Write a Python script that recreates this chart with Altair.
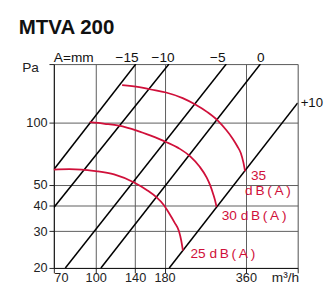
import altair as alt
import pandas as pd

FONT = "Liberation Sans"
RED = "#d0103a"

# axis ticks / domain
x_ticks = [70, 100, 140, 180, 360, 560]
y_ticks = [20, 30, 40, 50, 100, 190]
x_domain = [70, 560]
y_domain = [20, 190]

# damper setting lines (A = mm)
damper_names = ["−15", "−10", "−5", "0", "+10"]
damper_q_top = [140.8, 186.8, 304.5, 407.4, 560]
damper_p_top = [190, 190, 190, 190, 123.7]
damper_q_low = [70, 70, 77.2, 104.6, 187.3]
damper_p_low = [59.3, 39.0, 20, 20, 20]

# sound level curves
db35_q = [125.3, 145.0, 158.6, 182.2, 210.0, 233.9, 260.0, 283.9, 305.0, 321.7, 335.0, 344.9, 352.0, 357.5]
db35_p = [150.8, 147.5, 143.9, 138.8, 130.5, 121.6, 111.5, 101.6, 91.5, 83.4, 76.5, 71.0, 64.5, 58.2]
db30_q = [95.0, 108.0, 121.9, 142.0, 160.0, 182.2, 205.0, 224.4, 242.0, 257.8, 266.0, 272.3, 277.0, 280.2]
db30_p = [100.0, 98.3, 96.3, 91.2, 86.2, 80.4, 74.5, 68.4, 61.5, 54.2, 49.5, 45.3, 42.0, 39.3]
db25_q = [70, 80.0, 88.6, 100.0, 117.0, 138.8, 155.0, 167.7, 179.0, 187.3, 196.0, 203.5, 207.5, 210.4]
db25_p = [59.3, 59.5, 59.3, 58.3, 56.2, 51.4, 47.2, 43.7, 40.0, 36.5, 33.0, 30.0, 27.0, 24.2]

# labels
chart_title = "MTVA 200"
top_label_names = ["−15", "−10", "−5", "0"]
top_label_q = [130.6, 177.7, 283.2, 408.4]
db_label_text = ["35", "d\u2009B\u2009(\u2009A\u2009)", "30 d\u2009B\u2009(\u2009A\u2009)", "25 d\u2009B\u2009(\u2009A\u2009)"]
db_label_q = [375.8, 357.5, 292.8, 224.4]
db_label_p = [55.0, 46.6, 35.4, 23.3]

# ---- tables ----
damper_rows = []
for n, q1, p1, q2, p2 in zip(damper_names, damper_q_top, damper_p_top, damper_q_low, damper_p_low):
    damper_rows.append({"A": n, "q": q1, "p": p1})
    damper_rows.append({"A": n, "q": q2, "p": p2})
damper_df = pd.DataFrame(damper_rows)

curve_rows = []
for lvl, qs, ps in [("35", db35_q, db35_p), ("30", db30_q, db30_p), ("25", db25_q, db25_p)]:
    for i, (q, p) in enumerate(zip(qs, ps)):
        curve_rows.append({"level": lvl, "q": q, "p": p, "order": i})
curve_df = pd.DataFrame(curve_rows)

top_df = pd.DataFrame({"t": top_label_names, "q": top_label_q, "p": [190] * len(top_label_q)})
amm_df = pd.DataFrame({"t": ["A=mm"], "q": [70], "p": [190]})
plus_df = pd.DataFrame({"t": ["+10"], "q": [damper_q_top[-1]], "p": [damper_p_top[-1]]})
db_df = pd.DataFrame({"t": db_label_text, "q": db_label_q, "p": db_label_p})
title_df = pd.DataFrame({"t": [chart_title]})

xs = alt.Scale(type="log", domain=x_domain, nice=False, zero=False)
ys = alt.Scale(type="log", domain=y_domain, nice=False, zero=False)

x_axis = alt.Axis(
    values=x_ticks, format="d",
    labelExpr="datum.value == 560 ? '' : datum.label",
    labelBaseline="alphabetic",
    title="m³/h", titleX=223, titleY=14, titleAlign="left", titleBaseline="alphabetic",
    titleFont=FONT, titleFontSize=14, titleFontWeight="normal", titleColor="#222",
    labelFont=FONT, labelFontSize=13, labelColor="#222", labelPadding=9,
    tickSize=5, tickColor="#222", domainColor="#111",
    grid=True, gridColor="#5a5a5a", gridWidth=1,
)
y_axis = alt.Axis(
    values=y_ticks, format="d",
    labelExpr="datum.value == 190 ? '' : datum.label",
    title="Pa", titleAngle=0, titleX=-33, titleY=8, titleAlign="left", titleBaseline="alphabetic",
    titleFont=FONT, titleFontSize=14, titleFontWeight="normal", titleColor="#222",
    labelFont=FONT, labelFontSize=13, labelColor="#222", labelPadding=2,
    tickSize=5, tickColor="#222", domainColor="#111",
    grid=True, gridColor="#5a5a5a", gridWidth=1,
)

title_mark = alt.Chart(title_df).mark_text(
    font=FONT, fontSize=21, fontWeight="bold", color="#111", align="left", baseline="alphabetic"
).encode(x=alt.value(-36), y=alt.value(-31), text="t:N")

dampers = alt.Chart(damper_df).mark_line(color="black", strokeWidth=1.6, clip=True).encode(
    x=alt.X("q:Q", scale=xs, axis=x_axis),
    y=alt.Y("p:Q", scale=ys, axis=y_axis),
    detail="A:N",
)

curves = alt.Chart(curve_df).mark_line(color=RED, strokeWidth=1.8, interpolate="monotone").encode(
    x=alt.X("q:Q", scale=xs),
    y=alt.Y("p:Q", scale=ys),
    detail="level:N",
    order="order:Q",
)

top_labels = alt.Chart(top_df).mark_text(
    font=FONT, fontSize=14, color="#111", align="center", baseline="alphabetic", dy=-2
).encode(x=alt.X("q:Q", scale=xs), y=alt.Y("p:Q", scale=ys), text="t:N")

amm = alt.Chart(amm_df).mark_text(
    font=FONT, fontSize=14, color="#111", align="left", baseline="alphabetic", dy=-2
).encode(x=alt.X("q:Q", scale=xs), y=alt.Y("p:Q", scale=ys), text="t:N")

plus = alt.Chart(plus_df).mark_text(
    font=FONT, fontSize=13.5, color="#111", align="left", baseline="middle", dx=3
).encode(x=alt.X("q:Q", scale=xs), y=alt.Y("p:Q", scale=ys), text="t:N")

db_labels = alt.Chart(db_df).mark_text(
    font=FONT, fontSize=14, color=RED, align="left", baseline="middle"
).encode(x=alt.X("q:Q", scale=xs), y=alt.Y("p:Q", scale=ys), text="t:N")

chart = alt.layer(
    dampers, curves, top_labels, amm, plus, db_labels, title_mark
).properties(
    width=250, height=209,
    autosize=alt.AutoSizeParams(type="none"),
    padding={"left": 47, "top": 54, "right": 29, "bottom": 15},
).configure_view(stroke="#333", strokeWidth=1).configure(background="white")

chart.save("out.html", embed_options={"renderer": "svg", "actions": False})
